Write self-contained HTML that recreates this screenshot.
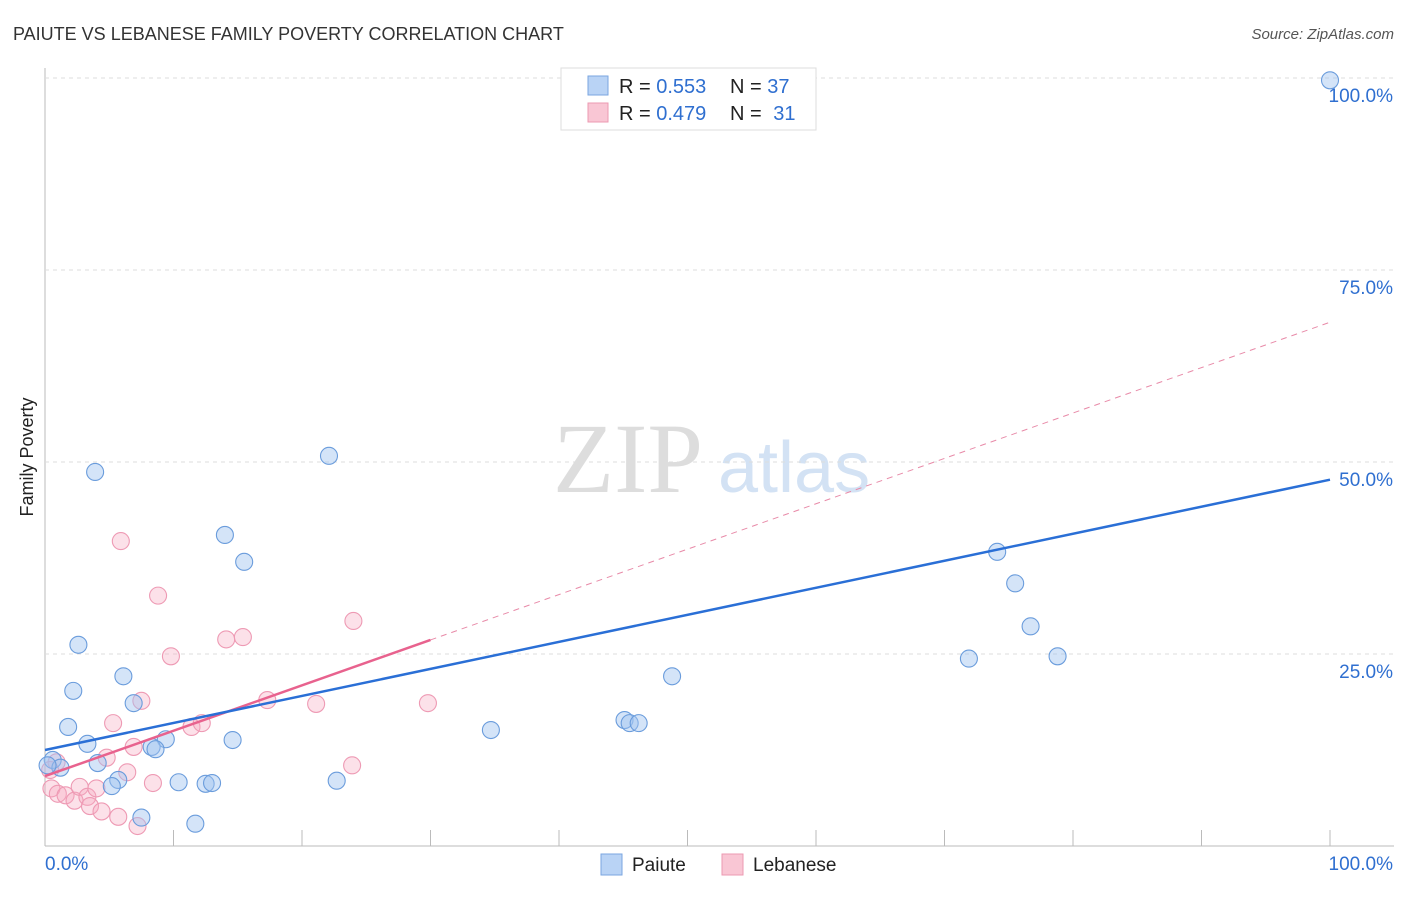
<!DOCTYPE html>
<html><head><meta charset="utf-8"><style>
body{margin:0;background:#fff;font-family:"Liberation Sans",sans-serif;}
</style></head><body>
<svg id="c" width="1406" height="892" viewBox="0 0 1406 892" xmlns="http://www.w3.org/2000/svg" font-family="Liberation Sans, sans-serif">
<text x="13" y="40" font-size="18" fill="#333">PAIUTE VS LEBANESE FAMILY POVERTY CORRELATION CHART</text>
<text x="1394" y="39" font-size="15" fill="#555" font-style="italic" text-anchor="end">Source: ZipAtlas.com</text>
<text x="33" y="457" font-size="18" fill="#222" transform="rotate(-90 33 457)" text-anchor="middle">Family Poverty</text>
<g id="wm"><text x="553" y="492" font-size="100" fill="#ddd" style="font-family:'Liberation Serif',serif">ZIP</text><text x="718" y="492" font-size="72" fill="#d3e2f4">atlas</text></g>
<g id="grid"></g><g id="marks"></g>
<g>
<rect x="561" y="68" width="255" height="62" fill="#fff" stroke="#ddd"/>
<rect x="588" y="76" width="20" height="19" fill="#b9d3f5" stroke="#7aa6e0"/>
<rect x="588" y="103" width="20" height="19" fill="#f9c6d4" stroke="#ec9ab2"/>
<text x="619" y="93" font-size="20" fill="#222">R = <tspan fill="#2f6fd0">0.553</tspan></text>
<text x="730" y="93" font-size="20" fill="#222">N = <tspan fill="#2f6fd0">37</tspan></text>
<text x="619" y="120" font-size="20" fill="#222">R = <tspan fill="#2f6fd0">0.479</tspan></text>
<text x="730" y="120" font-size="20" fill="#222">N = <tspan fill="#2f6fd0" dx="6">31</tspan></text>
</g>
<g>
<rect x="601" y="854" width="21" height="21" fill="#b9d3f5" stroke="#7aa6e0"/>
<text x="632" y="871" font-size="19" fill="#222">Paiute</text>
<rect x="722" y="854" width="21" height="21" fill="#f9c6d4" stroke="#ec9ab2"/>
<text x="753" y="871" font-size="19" fill="#222">Lebanese</text>
</g>
</svg>
<script>
const yTicks=[25,50,75,100];
const yTickLabels=["25.0%","50.0%","75.0%","100.0%"];
const paiuteX=[100,22.1,3.9,14,15.5,2.6,6.1,2.2,6.9,1.8,3.3,9.4,8.3,8.6,14.6,4.1,0.6,1.2,5.7,5.2,10.4,12.5,13,22.7,7.5,11.7,34.7,45.1,45.5,46.2,48.8,74.1,75.5,76.7,71.9,78.8,0.2];
const paiuteY=[99.7,50.8,48.7,40.5,37,26.2,22.1,20.2,18.6,15.5,13.3,13.9,12.9,12.6,13.8,10.8,11.2,10.2,8.6,7.8,8.3,8.1,8.2,8.5,3.7,2.9,15.1,16.4,16,16,22.1,38.3,34.2,28.6,24.4,24.7,10.5];
const lebX=[5.9,8.8,24,9.8,14.1,15.4,7.5,17.3,21.1,29.8,5.3,11.4,12.2,6.9,4.8,23.9,6.4,8.4,0.9,0.5,1,1.6,2.3,2.7,3.3,3.5,4,4.4,5.7,7.2,0.4];
const lebY=[39.7,32.6,29.3,24.7,26.9,27.2,18.9,19,18.5,18.6,16,15.5,16,12.9,11.5,10.5,9.6,8.2,10.9,7.5,6.8,6.6,5.9,7.7,6.4,5.2,7.5,4.5,3.8,2.6,9.9];
const blueLine=[12.5,47.7], pinkLine=[9.1,68.2], pinkSolidEnd=30;
const sx=v=>45+v*12.85, sy=v=>846-v*7.68;
const NS="http://www.w3.org/2000/svg";
function mk(p,t,a){const e=document.createElementNS(NS,t);for(const k in a)e.setAttribute(k,a[k]);p.appendChild(e);return e;}
const g=document.getElementById('grid'),m=document.getElementById('marks');
let ax=mk(g,'line',{x1:45,y1:68,x2:45,y2:846,stroke:'#bbb'});


let bx=mk(g,'line',{x1:45,y1:846,x2:1394,y2:846,stroke:'#bbb'});


for(let i=1;i<=10;i++){let t=mk(g,'line',{x1:45+i*128.5,y1:830,x2:45+i*128.5,y2:846,stroke:'#bbb'});

}
yTicks.forEach((v,i)=>{let l=mk(g,'line',{x1:45,y1:sy(v),x2:1394,y2:sy(v),stroke:'#ddd','stroke-dasharray':'4,4'});


let t=mk(g,'text',{x:1393,y:sy(v)+24,'font-size':19,fill:'#2f6fd0','text-anchor':'end'});t.textContent=yTickLabels[i];

});
let x0=mk(g,'text',{x:45,y:870,'font-size':19,fill:'#2f6fd0'});x0.textContent="0.0%";


let x1=mk(g,'text',{x:1393,y:870,'font-size':19,fill:'#2f6fd0','text-anchor':'end'});x1.textContent="100.0%";


lebX.forEach((v,i)=>{let c=mk(m,'circle',{cx:sx(v),cy:sy(lebY[i]),r:8.5,fill:'rgba(246,170,192,0.35)',stroke:'#ee9ab4','stroke-width':1.1});

});
paiuteX.forEach((v,i)=>{let c=mk(m,'circle',{cx:sx(v),cy:sy(paiuteY[i]),r:8.5,fill:'rgba(160,196,240,0.45)',stroke:'#6a9cdc','stroke-width':1.1});

});
const pl=x=>pinkLine[0]+(pinkLine[1]-pinkLine[0])*x/100;
let pd=mk(m,'line',{x1:sx(pinkSolidEnd),y1:sy(pl(pinkSolidEnd)),x2:sx(100),y2:sy(pinkLine[1]),stroke:'#e88aa8','stroke-width':1,'stroke-dasharray':'6,5'});


let ps=mk(m,'line',{x1:sx(0),y1:sy(pinkLine[0]),x2:sx(pinkSolidEnd),y2:sy(pl(pinkSolidEnd)),stroke:'#e8628e','stroke-width':2.5});


let bl=mk(m,'line',{x1:sx(0),y1:sy(blueLine[0]),x2:sx(100),y2:sy(blueLine[1]),stroke:'#2a6fd6','stroke-width':2.5});


</script>
</body></html>
